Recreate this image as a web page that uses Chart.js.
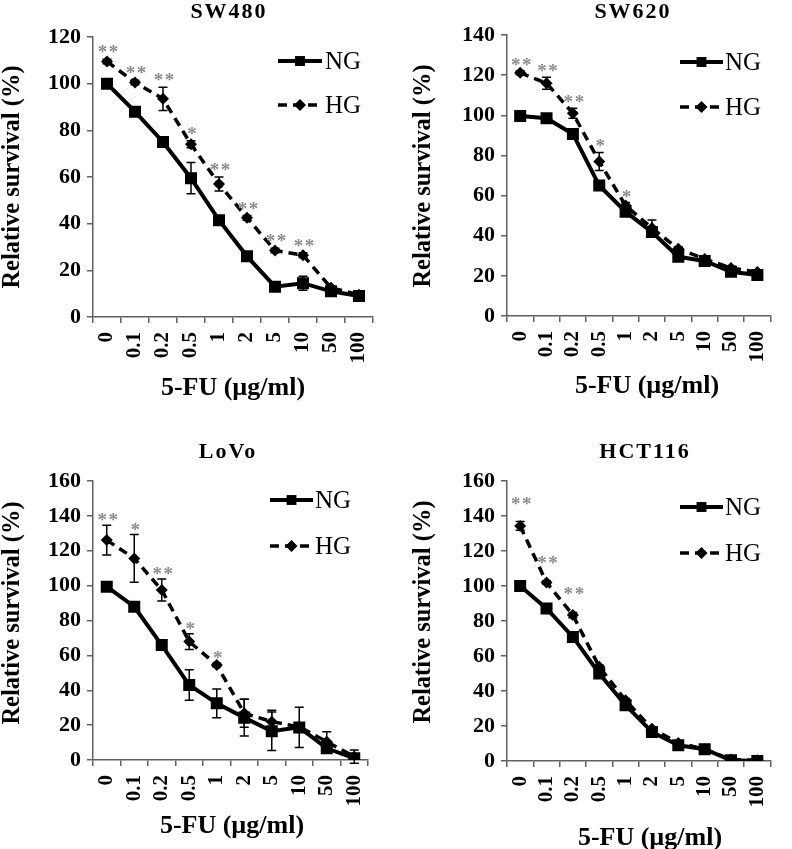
<!DOCTYPE html>
<html><head><meta charset="utf-8">
<script src="https://cdn.jsdelivr.net/npm/chart.js@4.4.1/dist/chart.umd.min.js"></script>
<style>
html,body{margin:0;padding:0;background:#fff;}
#wrap{position:relative;width:792px;height:849px;overflow:hidden;}
canvas{position:absolute;}
</style></head><body>
<div id="wrap">
<canvas id="c1" width="396" height="420" style="left:0;top:0;width:396px;height:420px"></canvas>
<canvas id="c2" width="396" height="420" style="left:396px;top:0;width:396px;height:420px"></canvas>
<canvas id="c3" width="396" height="429" style="left:0;top:420px;width:396px;height:429px"></canvas>
<canvas id="c4" width="396" height="429" style="left:396px;top:420px;width:396px;height:429px"></canvas>
</div>
<script>
// ---------- DATA ----------
const doses = ['0','0.1','0.2','0.5','1','2','5','10','50','100'];
const seriesNames = ['NG','HG'];
const xAxisTitle = '5-FU (\u00B5g/ml)';
const yAxisTitle = 'Relative survival (%)';

const sw480_NG     = [100, 88, 75, 59.5, 41.5, 26, 13, 14.5, 11, 9];
const sw480_NG_err = [0, 0, 0, 6.7, 0, 0, 0, 3, 0, 0];
const sw480_HG     = [109.5, 100.5, 93.5, 74, 57, 42.5, 28.5, 26.5, 12.5, 9.5];
const sw480_HG_err = [1, 1, 5, 1.5, 3, 1, 1, 1, 0, 0];
const sw480_sig    = ['**','**','**','*','**','**','**','**','',''];
const sw480_yTicks = [0, 20, 40, 60, 80, 100, 120];

const sw620_NG     = [99.6, 98.5, 90.7, 65, 52, 41.8, 29.5, 27.4, 22, 20.4];
const sw620_NG_err = [0, 0, 0, 0, 0, 0, 0, 0, 0, 0];
const sw620_HG     = [121.2, 116, 101, 77, 55, 43.8, 33.5, 28.4, 23.9, 21.9];
const sw620_HG_err = [1, 3, 2.5, 4.5, 1.5, 4, 1, 1, 1, 0];
const sw620_sig    = ['**','**','**','*','*','','','','',''];
const sw620_yTicks = [0, 20, 40, 60, 80, 100, 120, 140];

const lovo_NG      = [99.4, 87.9, 65.9, 43, 32.5, 24.3, 16.5, 18.7, 6.7, 1];
const lovo_NG_err  = [0, 0, 0, 8.8, 8.2, 10.5, 11, 11.5, 0, 0];
const lovo_HG      = [126.1, 115.6, 97.5, 67.9, 54.5, 26.8, 22, 19, 10.5, 1.9];
const lovo_HG_err  = [8.5, 13.7, 6.3, 4.5, 1, 8, 6.5, 0, 5.7, 3.8];
const lovo_sig     = ['**','*','**','*','*','','','','',''];
const lovo_yTicks  = [0, 20, 40, 60, 80, 100, 120, 140, 160];

const hct_NG       = [100, 87.2, 70.9, 50, 31.9, 16.6, 9, 6.7, 0.4, 0];
const hct_NG_err   = [0, 0, 0, 0, 0, 0, 0, 0, 0, 0];
const hct_HG       = [134.3, 102, 83.4, 53.8, 34.7, 18.5, 10.3, 6.8, 0.8, 0.5];
const hct_HG_err   = [2.5, 1, 1.5, 1, 1, 1, 0, 0, 0, 0];
const hct_sig      = ['**','**','**','','','','','','',''];
const hct_yTicks   = [0, 20, 40, 60, 80, 100, 120, 140, 160];

// ---------- STYLE / LAYOUT ----------
const SERIF = '"Liberation Serif","Times New Roman",serif';
const AXIS = '#606060';

const panels = [
  {id:'c1', title:'SW480', ng:sw480_NG, ngErr:sw480_NG_err, hg:sw480_HG, hgErr:sw480_HG_err, sig:sw480_sig, ticks:sw480_yTicks,
   area:{l:93,r:373,t:37,b:317}, titlePos:[229,12], yTitlePos:[13,177], xTitlePos:[233,388],
   legend:{x0:278,x1:322,tx:325,y:[61,105]}, sigOff:11},
  {id:'c2', title:'SW620', ng:sw620_NG, ngErr:sw620_NG_err, hg:sw620_HG, hgErr:sw620_HG_err, sig:sw620_sig, ticks:sw620_yTicks,
   area:{l:111,r:391,t:35,b:316}, titlePos:[237,12], yTitlePos:[28,176], xTitlePos:[251,386],
   legend:{x0:284,x1:327,tx:329,y:[62,107]}, sigOff:10},
  {id:'c3', title:'LoVo', ng:lovo_NG, ngErr:lovo_NG_err, hg:lovo_HG, hgErr:lovo_HG_err, sig:lovo_sig, ticks:lovo_yTicks,
   area:{l:93,r:368,t:61,b:340}, titlePos:[228,32], yTitlePos:[13,193], xTitlePos:[232,406],
   legend:{x0:270,x1:313,tx:315,y:[80,126]}, sigOff:9},
  {id:'c4', title:'HCT116', ng:hct_NG, ngErr:hct_NG_err, hg:hct_HG, hgErr:hct_HG_err, sig:hct_sig, ticks:hct_yTicks,
   area:{l:111,r:387,t:61,b:341}, titlePos:[249,32], yTitlePos:[28,192], xTitlePos:[254,418],
   legend:{x0:284,x1:327,tx:329,y:[87,133]}, sigOff:22}
];

function drawMarker(ctx, style, r, x, y) {
  ctx.save();
  ctx.fillStyle = '#000';
  ctx.beginPath();
  if (style === 'rect') {
    const h = r * Math.SQRT1_2;
    ctx.rect(x - h, y - h, 2*h, 2*h);
  } else {
    ctx.moveTo(x - r, y); ctx.lineTo(x, y - r); ctx.lineTo(x + r, y); ctx.lineTo(x, y + r); ctx.closePath();
  }
  ctx.fill();
  ctx.restore();
}

const decoPlugin = {
  id: 'deco',
  afterDatasetsDraw(chart, args, o) {
    const ctx = chart.ctx, xs = chart.scales.x, ys = chart.scales.y;
    chart.data.datasets.forEach(ds => {
      const err = ds.errors; if (!err) return;
      ds.data.forEach((v, i) => {
        const e = err[i]; if (!e) return;
        const px = xs.getPixelForValue(i);
        const top = ys.getPixelForValue(v + e), bot = ys.getPixelForValue(v - e);
        ctx.save();
        ctx.strokeStyle = '#000'; ctx.lineWidth = 1.5; ctx.setLineDash([]);
        ctx.beginPath();
        ctx.moveTo(px, top); ctx.lineTo(px, bot);
        ctx.moveTo(px - 4.5, top); ctx.lineTo(px + 4.5, top);
        ctx.moveTo(px - 4.5, bot); ctx.lineTo(px + 4.5, bot);
        ctx.stroke();
        ctx.restore();
      });
    });
    const hg = chart.data.datasets[1];
    ctx.save();
    ctx.fillStyle = '#8a8a8a';
    ctx.font = 'bold 19px ' + SERIF;
    ctx.textAlign = 'center';
    ctx.textBaseline = 'alphabetic';
    o.sig.forEach((s, i) => {
      if (!s) return;
      const v = hg.data[i] + (hg.errors[i] || 0);
      const px = xs.getPixelForValue(i) + 1;
      const py = ys.getPixelForValue(v) - o.sigOff;
      ctx.fillText(s.split('').join('\u200A'), px, py + 10);
    });
    ctx.restore();
  },
  afterDraw(chart, args, o) {
    const ctx = chart.ctx;
    ctx.save();
    ctx.fillStyle = '#000';
    ctx.font = 'bold 22px ' + SERIF;
    ctx.textAlign = 'center'; ctx.textBaseline = 'middle';
    if ('letterSpacing' in ctx) ctx.letterSpacing = '2px';
    ctx.fillText(o.title, o.titlePos[0], o.titlePos[1]);
    if ('letterSpacing' in ctx) ctx.letterSpacing = '0px';
    ctx.font = 'bold 26px ' + SERIF;
    ctx.fillText(xAxisTitle, o.xTitlePos[0], o.xTitlePos[1]);
    ctx.save();
    ctx.translate(o.yTitlePos[0], o.yTitlePos[1]);
    ctx.rotate(-Math.PI/2);
    ctx.font = 'bold 24.5px ' + SERIF;
    ctx.fillText(yAxisTitle, 0, 0);
    ctx.restore();
    const L = o.legend;
    chart.data.datasets.forEach((ds, k) => {
      const y = L.y[k];
      ctx.save();
      ctx.strokeStyle = '#000';
      ctx.lineWidth = ds.borderWidth;
      ctx.setLineDash(ds.borderDash || []);
      ctx.beginPath(); ctx.moveTo(L.x0, y); ctx.lineTo(L.x1, y); ctx.stroke();
      ctx.restore();
      drawMarker(ctx, ds.pointStyle, k === 0 ? 7 : 6, (L.x0 + L.x1)/2, y);
      ctx.font = '25px ' + SERIF;
      ctx.textAlign = 'left'; ctx.textBaseline = 'middle';
      ctx.fillText(ds.label, L.tx, y + 1);
    });
    ctx.restore();
  }
};

panels.forEach(p => {
  const canvas = document.getElementById(p.id);
  const W = canvas.width, H = canvas.height, a = p.area;
  const yMax = p.ticks[p.ticks.length - 1];
  new Chart(canvas, {
    type: 'line',
    data: {
      labels: doses,
      datasets: [
        {label: seriesNames[0], data: p.ng, errors: p.ngErr, borderColor:'#000', backgroundColor:'#000',
         borderWidth: 4, pointStyle:'rect', pointRadius: 8.5, pointHoverRadius: 8.5,
         pointBackgroundColor:'#000', pointBorderColor:'#000', pointBorderWidth: 0, tension: 0, fill: false},
        {label: seriesNames[1], data: p.hg, errors: p.hgErr, borderColor:'#000', backgroundColor:'#000',
         borderWidth: 3.5, borderDash:[9,6], pointStyle:'rectRot', pointRadius: 6, pointHoverRadius: 6,
         pointBackgroundColor:'#000', pointBorderColor:'#000', pointBorderWidth: 0, tension: 0, fill: false}
      ]
    },
    options: {
      responsive: false, animation: false, devicePixelRatio: 1,
      layout: {padding: {left: 0, top: a.t, right: W - a.r, bottom: 0}},
      plugins: {
        legend: {display: false}, title: {display: false}, tooltip: {enabled: false},
        deco: {title: p.title, sig: p.sig, sigOff: p.sigOff, titlePos: p.titlePos,
               yTitlePos: p.yTitlePos, xTitlePos: p.xTitlePos, legend: p.legend}
      },
      scales: {
        x: {
          type: 'category', offset: true,
          afterFit: s => { s.height = H - a.b; },
          grid: {offset: true, drawOnChartArea: false, drawTicks: true, tickLength: 6, color: AXIS, lineWidth: 1.5},
          border: {display: true, color: AXIS, width: 1.5},
          ticks: {color:'#000', font: {family: SERIF, size: 21, weight: 'bold'}, minRotation: 90, maxRotation: 90, padding: 9, autoSkip: false}
        },
        y: {
          min: 0, max: yMax,
          afterFit: s => { s.width = a.l; },
          afterBuildTicks: s => { s.ticks = p.ticks.map(v => ({value: v})); },
          grid: {drawOnChartArea: false, drawTicks: true, tickLength: 6, color: AXIS, lineWidth: 1.5},
          border: {display: true, color: AXIS, width: 1.5},
          ticks: {color:'#000', font: {family: SERIF, size: 22, weight: 'bold'}, padding: 6}
        }
      }
    },
    plugins: [decoPlugin]
  });
});
</script>
</body></html>
